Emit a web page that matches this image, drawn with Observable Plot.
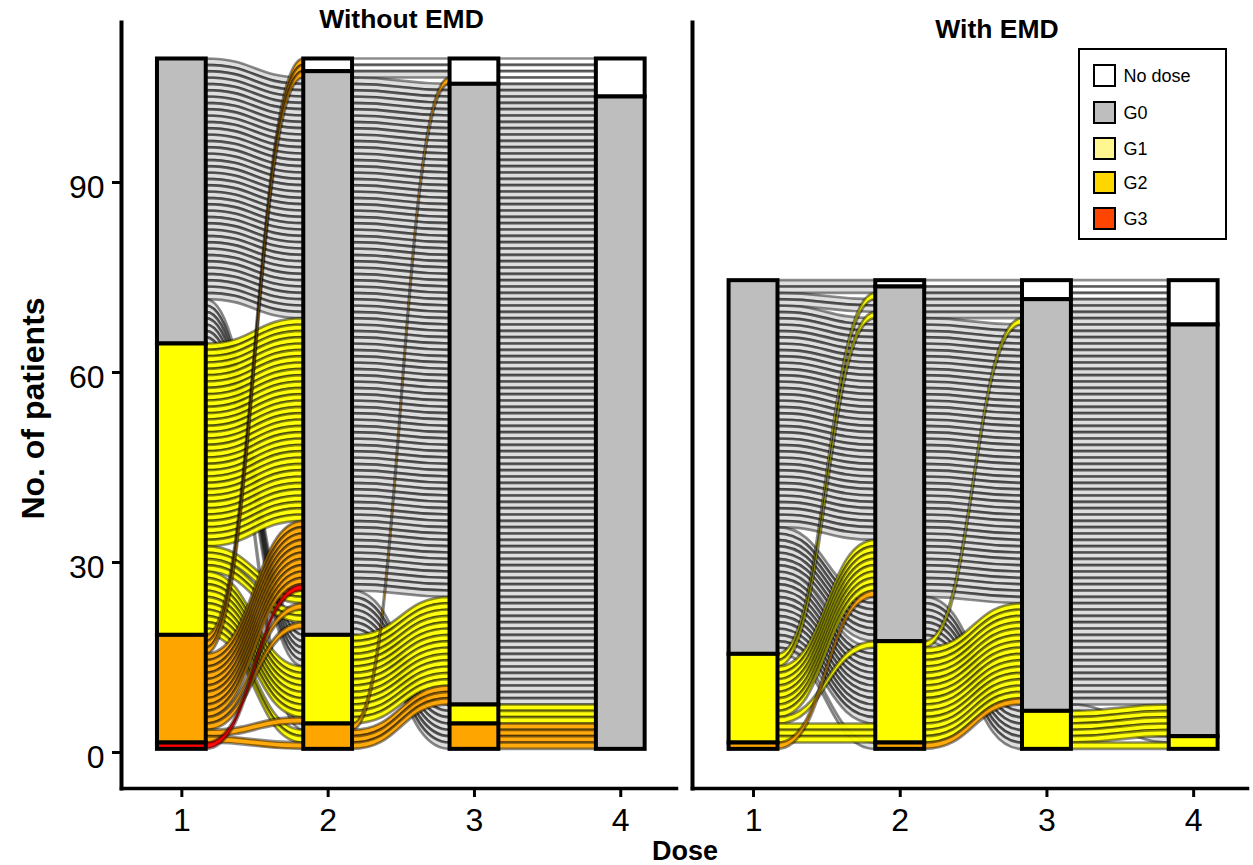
<!DOCTYPE html>
<html>
<head>
<meta charset="utf-8">
<script src="https://cdn.jsdelivr.net/npm/d3@7"></script>
<script src="https://cdn.jsdelivr.net/npm/@observablehq/plot@0.6"></script>
<style>
html,body{margin:0;padding:0;background:#fff;}
#fig{position:relative;width:1253px;height:865px;font-family:"Liberation Sans",Arial,sans-serif;color:#000;overflow:hidden;}
#legend{position:absolute;left:1077.5px;top:48px;width:145px;height:188px;border:2.5px solid #000;background:#fff;box-sizing:content-box;}
.sw{position:absolute;left:13px;width:19px;height:19px;border:2.5px solid #000;}
.lb{position:absolute;left:44px;font-size:18px;line-height:24px;}
#dose{position:absolute;left:652px;top:836px;font-size:27px;line-height:31px;font-weight:bold;}
</style>
</head>
<body>
<div id="fig"></div>
<script>
const doses = [1, 2, 3, 4];
const gradeOrder = ["No", "G0", "G1", "G2", "G3"];
const yTicks = [0, 30, 60, 90];
const stratumColors = {No: "#ffffff", G0: "#bebebe", G1: "#ffff00", G2: "#ffa500", G3: "#ff0000"};
const flowOpacity = {No: 0.4, G0: 0.5, G1: 0.95, G2: 0.95, G3: 0.95};
const legendNames = ["No dose", "G0", "G1", "G2", "G3"];
const legendColors = ["#ffffff", "#bebebe", "#fff68f", "#ffd700", "#ff4500"];

// Without EMD: counts per dose [No, G0, G1, G2, G3]
const leftDose1 = [0, 45, 46, 17, 1];
const leftDose2 = [2, 89, 14, 4, 0];
const leftDose3 = [4, 98, 3, 4, 0];
const leftDose4 = [6, 103, 0, 0, 0];
// With EMD
const rightDose1 = [0, 59, 14, 1, 0];
const rightDose2 = [1, 56, 16, 1, 0];
const rightDose3 = [3, 65, 6, 0, 0];
const rightDose4 = [7, 65, 2, 0, 0];

// Flow runs, top to bottom: [from grade, to grade, patients]
const leftFrom12 = [["G0","G0",39],["G0","G1",5],["G0","G2",1],["G1","G0",36],["G1","G1",8],["G1","G2",2],["G2","No",2],["G2","G0",13],["G2","G1",1],["G2","G2",1],["G3","G0",1]];
const leftTo12 = [["G2","No",2],["G2","G0",1],["G0","G0",38],["G1","G0",32],["G2","G0",10],["G3","G0",1],["G1","G0",2],["G2","G0",1],["G1","G0",2],["G2","G0",1],["G0","G0",1],["G0","G1",5],["G1","G1",8],["G2","G1",1],["G0","G2",1],["G1","G2",2],["G2","G2",1]];
const leftFrom23 = [["No","No",2],["G0","No",1],["G0","G0",81],["G0","G1",3],["G0","G2",4],["G1","G0",14],["G2","No",1],["G2","G0",3]];
const leftTo23 = [["No","No",2],["G0","No",1],["G2","No",1],["G0","G0",81],["G1","G0",14],["G2","G0",3],["G0","G1",3],["G0","G2",4]];
const leftFrom34 = [["No","No",4],["G0","No",2],["G0","G0",96],["G1","G0",3],["G2","G0",4]];
const leftTo34 = [["No","No",4],["G0","No",2],["G0","G0",96],["G1","G0",3],["G2","G0",4]];

const rightFrom12 = [["G0","No",1],["G0","G0",45],["G0","G1",12],["G0","G2",1],["G1","G0",10],["G1","G1",4],["G2","G0",1]];
const rightTo12 = [["G0","No",1],["G0","G0",1],["G1","G0",1],["G0","G0",2],["G1","G0",1],["G0","G0",35],["G1","G0",8],["G2","G0",1],["G0","G0",7],["G1","G1",1],["G0","G1",12],["G1","G1",3],["G0","G2",1]];
const rightFrom23 = [["No","No",1],["G0","No",2],["G0","G0",48],["G0","G1",6],["G1","G0",16],["G2","G0",1]];
const rightTo23 = [["No","No",1],["G0","No",2],["G0","G0",3],["G1","G0",1],["G0","G0",44],["G1","G0",15],["G2","G0",1],["G0","G0",1],["G0","G1",6]];
const rightFrom34 = [["No","No",3],["G0","No",4],["G0","G0",60],["G0","G1",1],["G1","G0",5],["G1","G1",1]];
const rightTo34 = [["No","No",3],["G0","No",4],["G0","G0",60],["G1","G0",5],["G0","G1",1],["G1","G1",1]];

const barWidth = 1 / 3;
const base = 0.5;

function buildStrata(columns) {
  const rows = [];
  columns.forEach((counts, i) => {
    const total = d3.sum(counts);
    let top = base + total;
    counts.forEach((n, g) => {
      if (n > 0) {
        rows.push({x1: doses[i] - barWidth / 2, x2: doses[i] + barWidth / 2, y1: top - n, y2: top, fill: stratumColors[gradeOrder[g]]});
        top -= n;
      }
    });
  });
  return rows;
}

function buildRibbons(fromRuns, toRuns, dose, prefix) {
  const total = d3.sum(fromRuns, r => r[2]);
  const slots = new Map();
  let top = base + total;
  for (const [a, b, n] of fromRuns) {
    const key = a + ">" + b;
    if (!slots.has(key)) slots.set(key, []);
    for (let k = 0; k < n; k++) { slots.get(key).push(top); top -= 1; }
  }
  const rows = [];
  top = base + total;
  let id = 0;
  for (const [a, b, n] of toRuns) {
    const key = a + ">" + b;
    for (let k = 0; k < n; k++) {
      const from = slots.get(key).shift();
      const name = prefix + dose + "-" + (id++);
      rows.push({id: name, grade: a, x: dose + barWidth / 2, y1: from - 1, y2: from});
      rows.push({id: name, grade: a, x: dose + 1 - barWidth / 2, y1: top - 1, y2: top});
      top -= 1;
    }
  }
  return rows;
}

function panel(opts) {
  const ribbons = opts.flows.flatMap(([f, t], i) => buildRibbons(f, t, doses[i], opts.prefix));
  const flowMarks = gradeOrder.map(g => Plot.areaY(ribbons.filter(d => d.grade === g), {
    x: "x", y1: "y1", y2: "y2", z: "id", curve: "bump-x",
    fill: stratumColors[g], fillOpacity: flowOpacity[g],
    stroke: "#000", strokeOpacity: 0.45, strokeWidth: 2.7
  }));
  const marks = [
    ...flowMarks,
    Plot.rect(buildStrata(opts.columns), {x1: "x1", x2: "x2", y1: "y1", y2: "y2", fill: "fill", stroke: "#000", strokeWidth: 4}),
    Plot.frame({anchor: "left", strokeWidth: 4}),
    Plot.frame({anchor: "bottom", strokeWidth: 3.5}),
    Plot.axisX({ticks: doses, tickFormat: d => String(d), tickSize: 9, tickPadding: 11, fontSize: 32, strokeWidth: 3, label: null}),
    Plot.text([opts.title], {frameAnchor: "top", dx: opts.titleDx, dy: opts.titleDy, text: d => d, fontSize: 26.5, fontWeight: "bold"})
  ];
  if (opts.yAxis) {
    marks.push(Plot.axisY({ticks: yTicks, tickSize: 9, fill: "none", strokeWidth: 3, label: null}));
    marks.push(Plot.axisY({ticks: yTicks, tickSize: 0, tickPadding: 17, dy: 5, fontSize: 32, label: null}));
    marks.push(Plot.text(["No. of patients"], {frameAnchor: "left", textAnchor: "middle", dx: -88, dy: 3, rotate: -90, text: d => d, fontSize: 32, fontWeight: "bold"}));
  }
  return Plot.plot({
    width: opts.width, height: 865,
    marginLeft: opts.marginLeft, marginRight: opts.marginRight, marginTop: 22, marginBottom: 77,
    x: {domain: opts.xDomain, axis: null},
    y: {domain: [-5.68, 115.26], axis: null},
    color: {type: "identity"},
    style: {position: "absolute", left: opts.left + "px", top: "0px", fontFamily: "'Liberation Sans',Arial,sans-serif", color: "#000", background: "transparent", overflow: "visible", maxWidth: "none"},
    marks
  });
}

const fig = document.getElementById("fig");
fig.append(panel({
  prefix: "L", title: "Without EMD", yAxis: true, left: 0, width: 680, marginLeft: 121, marginRight: 4,
  xDomain: [0.5875, 4.381], titleDx: 2.5, titleDy: -13,
  columns: [leftDose1, leftDose2, leftDose3, leftDose4],
  flows: [[leftFrom12, leftTo12], [leftFrom23, leftTo23], [leftFrom34, leftTo34]]
}));
fig.append(panel({
  prefix: "R", title: "With EMD", yAxis: false, left: 680, width: 573, marginLeft: 12, marginRight: 6,
  xDomain: [0.584, 4.367], titleDx: 27, titleDy: -3,
  columns: [rightDose1, rightDose2, rightDose3, rightDose4],
  flows: [[rightFrom12, rightTo12], [rightFrom23, rightTo23], [rightFrom34, rightTo34]]
}));

const legend = document.createElement("div");
legend.id = "legend";
const legendTops = [14, 51, 87, 121, 157];
legendNames.forEach((name, i) => {
  const sw = document.createElement("div");
  sw.className = "sw"; sw.style.top = legendTops[i] + "px"; sw.style.background = legendColors[i];
  const lb = document.createElement("div");
  lb.className = "lb"; lb.style.top = (legendTops[i]) + "px"; lb.textContent = name;
  legend.append(sw, lb);
});
fig.append(legend);
const dose = document.createElement("div");
dose.id = "dose"; dose.textContent = "Dose";
fig.append(dose);
</script>
</body>
</html>
